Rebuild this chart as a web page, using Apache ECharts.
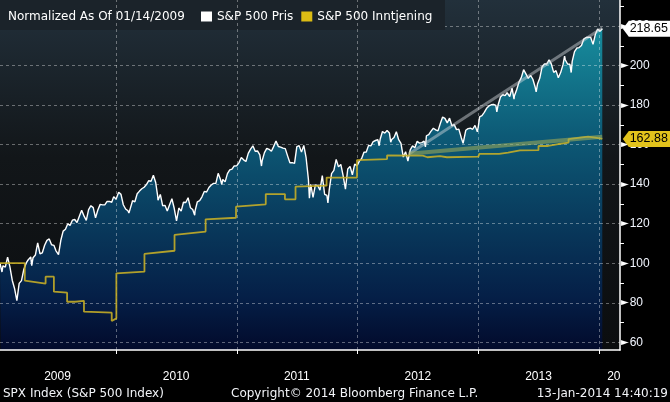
<!DOCTYPE html>
<html><head><meta charset="utf-8">
<script src="https://cdn.jsdelivr.net/npm/echarts@6/dist/echarts.min.js"></script>
<style>html,body{margin:0;padding:0;background:#000}#c{width:670px;height:402px}</style>
</head><body><div id="c"></div>
<script>
// ---- data (normalized, 14 Jan 2009 = 100) ----
const priceDates = [
'2009-01-14','2009-01-16','2009-01-20','2009-01-23','2009-01-30','2009-02-06','2009-02-13','2009-02-20','2009-02-27','2009-03-06','2009-03-09','2009-03-13','2009-03-20','2009-03-27','2009-04-03','2009-04-09','2009-04-17','2009-04-20','2009-04-24','2009-05-01','2009-05-08','2009-05-15','2009-05-22','2009-05-29','2009-06-05','2009-06-12','2009-06-19','2009-06-26','2009-07-02','2009-07-10','2009-07-17','2009-07-24','2009-07-31','2009-08-07','2009-08-14','2009-08-21','2009-08-28','2009-09-04','2009-09-11','2009-09-18','2009-09-25','2009-10-02','2009-10-09','2009-10-16','2009-10-23','2009-10-30','2009-11-06','2009-11-13','2009-11-20','2009-11-27','2009-12-04','2009-12-11','2009-12-18','2009-12-24','2009-12-31',
'2010-01-08','2010-01-15','2010-01-22','2010-01-29','2010-02-05','2010-02-08','2010-02-12','2010-02-19','2010-02-26','2010-03-05','2010-03-12','2010-03-19','2010-03-26','2010-04-02','2010-04-09','2010-04-16','2010-04-23','2010-04-30','2010-05-06','2010-05-07','2010-05-14','2010-05-21','2010-05-28','2010-06-04','2010-06-11','2010-06-18','2010-06-25','2010-07-02','2010-07-09','2010-07-16','2010-07-23','2010-07-30','2010-08-06','2010-08-13','2010-08-20','2010-08-26','2010-08-27','2010-09-03','2010-09-10','2010-09-17','2010-09-24','2010-10-01','2010-10-08','2010-10-15','2010-10-22','2010-10-29','2010-11-05','2010-11-12','2010-11-16','2010-11-19','2010-11-26','2010-12-03','2010-12-10','2010-12-17','2010-12-23','2010-12-31',
'2011-01-07','2011-01-14','2011-01-21','2011-01-28','2011-02-04','2011-02-11','2011-02-18','2011-02-25','2011-03-04','2011-03-11','2011-03-16','2011-03-18','2011-03-25','2011-04-01','2011-04-08','2011-04-15','2011-04-21','2011-04-29','2011-05-06','2011-05-13','2011-05-20','2011-05-27','2011-06-03','2011-06-10','2011-06-17','2011-06-24','2011-07-01','2011-07-08','2011-07-15','2011-07-22','2011-07-29','2011-08-05','2011-08-08','2011-08-12','2011-08-19','2011-08-26','2011-09-02','2011-09-09','2011-09-16','2011-09-23','2011-09-30','2011-10-03','2011-10-07','2011-10-14','2011-10-21','2011-10-28','2011-11-04','2011-11-11','2011-11-18','2011-11-25','2011-12-02','2011-12-09','2011-12-16','2011-12-23','2011-12-30',
'2012-01-06','2012-01-13','2012-01-20','2012-01-27','2012-02-03','2012-02-10','2012-02-17','2012-02-24','2012-03-02','2012-03-06','2012-03-09','2012-03-16','2012-03-23','2012-03-30','2012-04-06','2012-04-10','2012-04-13','2012-04-20','2012-04-27','2012-05-04','2012-05-11','2012-05-18','2012-05-25','2012-06-01','2012-06-04','2012-06-08','2012-06-15','2012-06-22','2012-06-29','2012-07-06','2012-07-13','2012-07-20','2012-07-24','2012-07-27','2012-08-03','2012-08-10','2012-08-17','2012-08-24','2012-08-31','2012-09-07','2012-09-14','2012-09-21','2012-09-28','2012-10-05','2012-10-12','2012-10-19','2012-10-26','2012-11-02','2012-11-09','2012-11-15','2012-11-16','2012-11-23','2012-11-30','2012-12-07','2012-12-14','2012-12-21','2012-12-28','2012-12-31',
'2013-01-04','2013-01-11','2013-01-18','2013-01-25','2013-02-01','2013-02-08','2013-02-15','2013-02-22','2013-02-25','2013-03-01','2013-03-08','2013-03-15','2013-03-22','2013-03-28','2013-04-05','2013-04-12','2013-04-18','2013-04-19','2013-04-26','2013-05-03','2013-05-10','2013-05-17','2013-05-21','2013-05-24','2013-05-31','2013-06-07','2013-06-14','2013-06-21','2013-06-24','2013-06-28','2013-07-05','2013-07-12','2013-07-19','2013-07-26','2013-08-02','2013-08-09','2013-08-16','2013-08-23','2013-08-30','2013-09-06','2013-09-13','2013-09-18','2013-09-20','2013-09-27','2013-10-04','2013-10-08','2013-10-11','2013-10-18','2013-10-25','2013-11-01','2013-11-08','2013-11-15','2013-11-22','2013-11-29','2013-12-06','2013-12-13','2013-12-20','2013-12-27','2013-12-31','2014-01-03','2014-01-10'];
const priceValues = [
100.00,100.89,95.56,98.73,98.01,103.08,98.13,91.39,87.24,81.10,80.29,89.79,91.21,96.83,99.99,101.65,103.20,98.79,102.80,104.14,110.28,104.78,105.27,109.08,111.57,112.29,109.33,109.05,106.38,104.33,111.60,116.22,117.19,119.92,119.16,121.78,122.11,120.62,123.75,126.78,123.94,121.67,127.16,129.08,128.12,122.97,126.90,129.77,129.52,129.53,131.25,131.30,130.84,133.69,132.34,
135.88,134.82,129.57,127.44,126.53,125.41,127.64,131.63,131.08,135.14,136.48,137.65,138.45,139.81,141.74,141.48,144.46,140.83,133.89,131.83,134.78,129.08,129.29,126.38,129.55,132.62,127.79,121.36,127.93,126.38,130.86,130.73,133.11,128.08,127.19,124.28,126.34,131.08,131.68,133.58,136.32,136.03,138.28,139.59,140.40,140.43,145.48,142.32,139.84,142.38,141.15,145.35,147.21,147.62,149.15,149.25,
150.90,153.48,152.30,151.47,155.57,157.74,159.39,156.64,156.79,154.79,149.16,151.81,155.92,158.13,157.62,156.62,158.72,161.83,159.05,158.76,158.23,157.97,154.30,150.84,150.90,150.54,158.99,159.48,156.20,159.62,153.36,142.34,132.85,139.90,133.34,139.66,139.32,136.98,144.31,134.87,134.27,130.45,137.13,145.33,146.95,152.51,148.73,149.99,144.27,137.51,147.67,148.96,144.75,150.17,149.25,
151.65,152.99,156.11,156.22,159.61,159.34,161.55,162.08,162.54,159.43,162.69,166.64,165.80,167.15,165.92,161.23,162.62,163.60,166.55,162.48,160.62,153.71,156.39,151.67,151.69,157.33,159.36,158.44,161.66,160.77,161.02,161.72,158.83,164.48,165.08,166.84,168.30,167.47,166.93,170.65,173.95,173.29,170.98,173.38,169.54,170.09,167.56,167.83,163.76,160.61,161.39,167.24,168.07,168.30,167.76,169.73,166.44,169.26,
174.04,174.70,176.35,178.37,179.58,180.14,180.37,179.87,176.57,180.18,184.09,185.22,184.77,186.23,184.34,188.56,182.95,184.57,187.78,191.59,193.88,197.89,198.09,195.77,193.53,195.03,193.06,188.99,186.69,190.63,193.67,199.40,200.81,200.76,202.90,200.73,196.51,197.42,193.80,196.43,200.33,204.78,202.93,200.77,200.62,196.46,202.13,207.03,208.85,209.07,210.13,213.40,214.18,214.31,214.22,210.69,215.79,218.53,219.36,217.34,218.65];

const earnDates = [
'2009-01-14','2009-03-30','2009-03-30','2009-06-01','2009-06-01','2009-06-26','2009-06-26','2009-08-05','2009-08-05','2009-08-29','2009-08-29','2009-09-25','2009-09-25','2009-12-18','2009-12-18','2010-01-01','2010-01-01',
'2010-03-27','2010-03-27','2010-06-26','2010-06-26','2010-09-28','2010-09-28','2010-12-29','2010-12-29',
'2011-03-29','2011-03-29','2011-05-26','2011-05-26','2011-06-27','2011-06-27','2011-09-29','2011-09-29','2011-12-30','2011-12-30',
'2012-03-30','2012-03-30','2012-07-16','2012-07-16','2012-07-30','2012-07-30','2012-09-06','2012-09-06','2012-09-27','2012-09-27','2012-12-31',
'2013-01-03','2013-03-04','2013-03-04','2013-03-31','2013-03-31','2013-05-06','2013-07-01','2013-07-01','2013-07-30','2013-07-30','2013-08-30','2013-08-30','2013-09-30','2013-09-30','2013-11-28','2013-12-19','2014-01-10'];
const earnValues = [
100.0,100.0,91.2,89.7,93.2,93.2,85.6,85.1,80.5,80.5,81.0,81.0,75.5,75.0,70.8,72.1,94.9,
95.7,104.7,106.3,114.3,116.0,122.2,123.0,128.6,
129.8,135.0,135.0,132.3,132.3,138.7,139.2,143.3,143.3,152.2,
152.7,154.6,154.4,153.6,153.6,154.2,154.2,153.6,153.6,153.9,153.9,
155.3,155.3,155.9,155.9,156.8,157.1,157.2,159.3,159.3,160.3,160.3,161.0,161.0,162.8,164.0,163.5,162.88];

const trendDates = ['2012-06-04','2014-01-10'];
const priceTrend = [155.2, 219.0];
const earnTrend = [155.4, 164.0];

const yLabelValues = [60, 80, 100, 120, 140, 160, 180, 200, 220];
const yMinorTicks = [70, 90, 110, 130, 150, 170, 190, 210, 230];
const yearStarts = ['2010-01-01','2011-01-01','2012-01-01','2013-01-01','2014-01-01'];
const xLabelDates = ['2009-07-07','2010-07-01','2011-07-01','2012-07-01','2013-07-01','2014-02-14'];
const xLabelTexts = ['2009','2010','2011','2012','2013','20'];

const legendTitle = 'Normalized As Of 01/14/2009';
const priceName = 'S&P 500 Pris';
const earnName = 'S&P 500 Inntjening';
const footerLeft = 'SPX Index (S&P 500 Index)';
const footerMid = 'Copyright\u00a9 2014 Bloomberg Finance L.P.';
const footerRight = '13-Jan-2014 14:40:19';

// ---- helpers ----
const DAY = 86400000;
const ts = s => { const p = s.split('-').map(Number); return Date.UTC(p[0], p[1] - 1, p[2]); };
const pairs = (d, v) => d.map((s, i) => [ts(s), v[i]]);
const xMin = ts('2009-01-14');
const xMax = ts('2014-03-04') + 0.6 * DAY;
const xLabelTs = xLabelDates.map(ts);

const chart = echarts.init(document.getElementById('c'), null, { renderer: 'canvas' });
const FONT_AX = 'Liberation Sans';
const FONT_TX = 'DejaVu Sans';
const gridLineStyle = { type: [3, 3], color: 'rgba(255,255,255,0.36)', width: 1 };

const priceData = pairs(priceDates, priceValues);
const earnData = pairs(earnDates, earnValues);
const lastP = priceData[priceData.length - 1];
const lastE = earnData[earnData.length - 1];
const boxPath = 'path://M0,8 L6,0 L50,0 L50,16 L6,16 Z';

chart.setOption({
  animation: false,
  backgroundColor: '#000',
  grid: {
    left: 0, right: 50, top: 0, bottom: 52, show: true, borderWidth: 0,
    backgroundColor: { type: 'linear', x: 0, y: 0, x2: 0, y2: 1,
      colorStops: [{ offset: 0, color: '#22303b' }, { offset: 0.45, color: '#121619' }, { offset: 1, color: '#0b0d0f' }] }
  },
  legend: {
    left: 201, top: 10.5, padding: 0, itemWidth: 11, itemHeight: 10, itemGap: 8, z: 10,
    textStyle: { color: '#fff', fontFamily: FONT_TX, fontSize: 12 },
    data: [
      { name: priceName, icon: 'rect', itemStyle: { color: '#ffffff', borderWidth: 0 } },
      { name: earnName, icon: 'rect', itemStyle: { color: '#dcbc14', borderWidth: 0 } }
    ],
    selectedMode: false
  },
  xAxis: {
    type: 'value', min: xMin, max: xMax, z: 3,
    axisLine: { show: true, onZero: false, lineStyle: { color: '#fff', width: 1.5 } },
    axisTick: { show: true, customValues: yearStarts.map(ts), length: 4, lineStyle: { color: '#fff', width: 1 } },
    axisLabel: {
      customValues: xLabelTs,
      formatter: v => { const i = xLabelTs.indexOf(v); return i >= 0 ? xLabelTexts[i] : ''; },
      color: '#fff', fontFamily: FONT_AX, fontSize: 12, margin: 21
    },
    splitLine: { show: false }
  },
  yAxis: {
    type: 'value', position: 'right', min: 56.1, max: 233.15, z: 3,
    axisLine: { show: true, onZero: false, lineStyle: { color: '#fff', width: 1.5 } },
    axisTick: { show: true, customValues: yMinorTicks, length: 4, lineStyle: { color: '#fff', width: 1 } },
    axisLabel: {
      customValues: yLabelValues, margin: 1,
      formatter: v => '{t|\u25BA}{n|' + v + '}',
      rich: {
        t: { fontSize: 10, color: '#fff', fontFamily: FONT_TX, padding: [0, 1, 0, 0] },
        n: { fontSize: 12, color: '#f2f6ff', fontFamily: FONT_AX }
      }
    },
    splitLine: { show: false }
  },
  graphic: [
    { type: 'rect', z: 3, shape: { x: 0, y: 0, width: 445, height: 30 }, style: { fill: '#1b232a' }, silent: true },
    { type: 'text', z: 10, x: 8, y: 16.5, style: { text: legendTitle, fill: '#fff', font: '12px "DejaVu Sans"', verticalAlign: 'middle' } },
    { type: 'text', z: 10, x: 3, y: 393.5, style: { text: footerLeft, fill: '#f2f4f8', font: '12px "DejaVu Sans"', verticalAlign: 'middle' } },
    { type: 'text', z: 10, x: 231, y: 393.5, style: { text: footerMid, fill: '#f2f4f8', font: '12px "DejaVu Sans"', verticalAlign: 'middle' } },
    { type: 'text', z: 10, x: 668, y: 393.5, style: { text: footerRight, fill: '#f2f4f8', font: '12px "DejaVu Sans"', verticalAlign: 'middle', align: 'right' } }
  ],
  series: [
    {
      name: 'area', type: 'line', z: 1, silent: true, showSymbol: false, data: priceData,
      lineStyle: { width: 0 },
      areaStyle: { opacity: 1, color: { type: 'linear', x: 0, y: 0, x2: 0, y2: 350, global: true,
        colorStops: [{ offset: 0, color: '#1b9fb0' }, { offset: 0.12, color: '#168698' }, { offset: 0.38, color: '#0d5b77' },
                     { offset: 0.62, color: '#093c5e' }, { offset: 0.85, color: '#051f47' }, { offset: 1, color: '#020a2b' }] } }
    },
    {
      name: 'hgrid', type: 'line', z: 2, silent: true, data: [],
      markLine: {
        z: 2, silent: true, symbol: ['none', 'none'], label: { show: false }, lineStyle: gridLineStyle, animation: false,
        data: yLabelValues.map(v => ({ yAxis: v }))
      }
    },
    {
      name: 'vgrid', type: 'line', z: 4, silent: true, data: [],
      markLine: {
        z: 4, silent: true, symbol: ['none', 'none'], label: { show: false }, lineStyle: gridLineStyle, animation: false,
        data: yearStarts.map(s => ({ xAxis: ts(s) }))
      }
    },
    {
      name: priceName, type: 'line', z: 5, clip: false, showSymbol: false, data: priceData,
      itemStyle: { color: '#fff' }, lineStyle: { color: '#fff', width: 1.4 },
      markPoint: {
        z: 8, symbol: boxPath, symbolSize: [50, 16], symbolOffset: [45.5, 0], silent: true,
        itemStyle: { color: '#fff' },
        label: { show: true, position: 'inside', offset: [1, 0], color: '#000', fontFamily: FONT_AX, fontSize: 12.5, formatter: p => p.value.toFixed(2) },
        data: [{ coord: lastP, value: lastP[1] }]
      }
    },
    {
      name: earnName, type: 'line', z: 6, clip: false, showSymbol: false, data: earnData,
      itemStyle: { color: '#c9b026' }, lineStyle: { color: '#c9b026', width: 1.8, opacity: 0.88 },
      markPoint: {
        z: 8, symbol: boxPath, symbolSize: [50, 16], symbolOffset: [45.5, 0], silent: true,
        itemStyle: { color: '#e2c31c', opacity: 1 },
        label: { show: true, position: 'inside', offset: [1, 0], color: '#000', fontFamily: FONT_AX, fontSize: 12.5, formatter: p => p.value.toFixed(2) },
        data: [{ coord: lastE, value: lastE[1] }]
      }
    },
    {
      name: 'priceTrend', type: 'line', z: 7, silent: true, showSymbol: false, data: pairs(trendDates, priceTrend),
      lineStyle: { color: 'rgba(215,220,225,0.45)', width: 3 }
    },
    {
      name: 'earnTrend', type: 'line', z: 7, silent: true, showSymbol: false, data: pairs(trendDates, earnTrend),
      lineStyle: { color: 'rgba(165,175,85,0.55)', width: 4 }
    }
  ]
});
</script>
</body></html>
